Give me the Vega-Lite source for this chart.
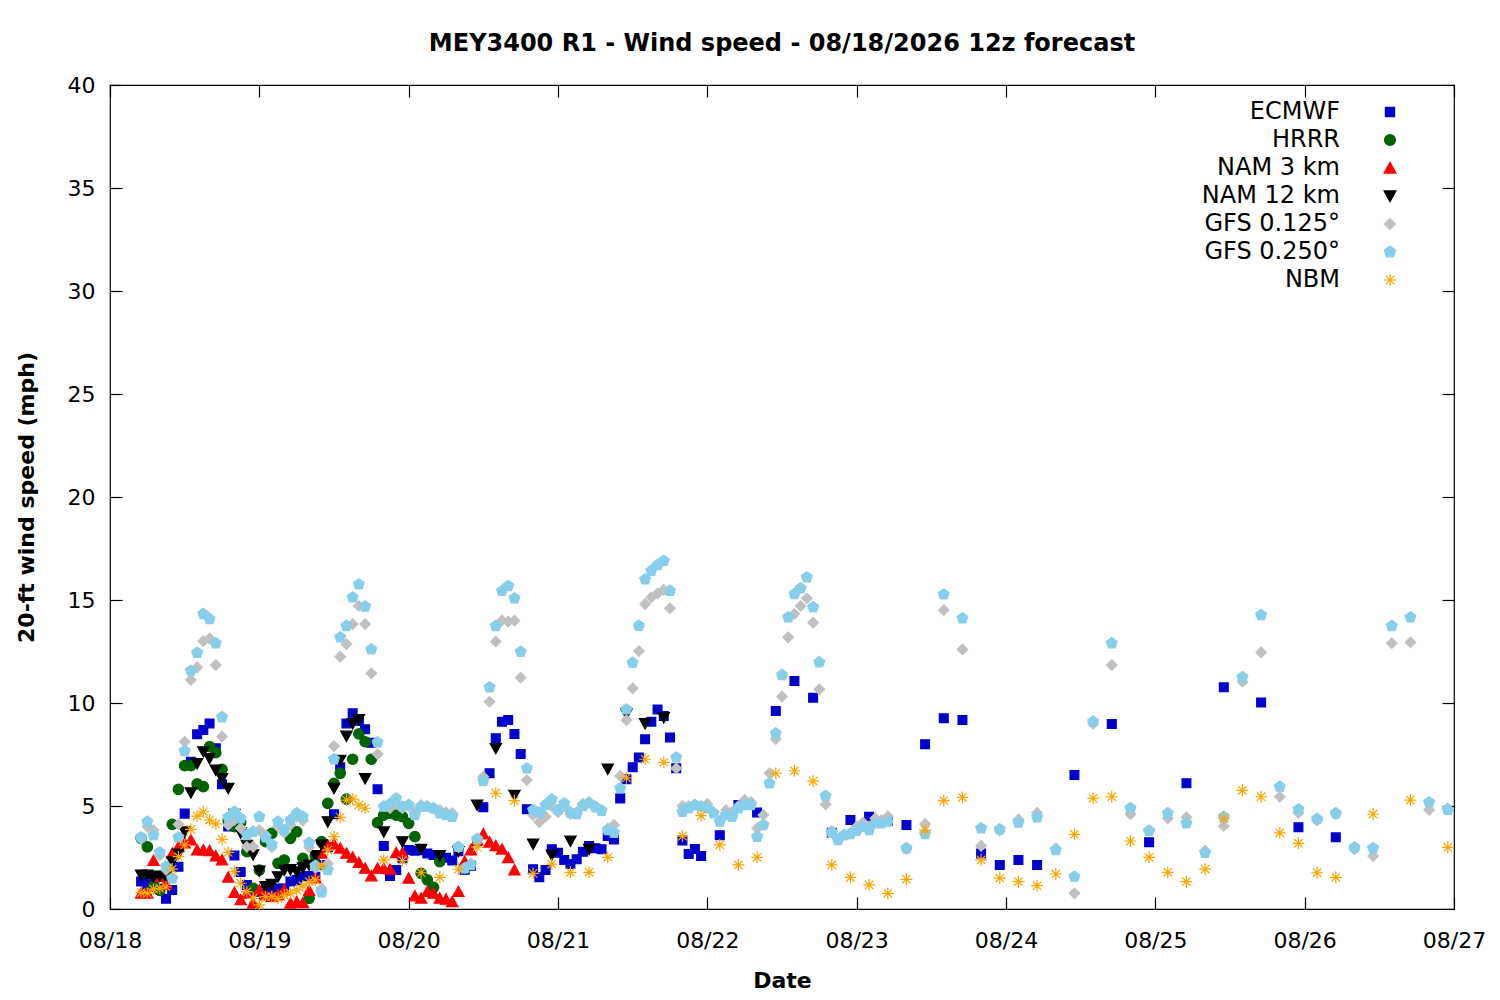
{
  "$schema": "https://vega.github.io/schema/vega-lite/v6.json",
  "width": 1344,
  "height": 824,
  "autosize": "none",
  "padding": {"left": 110, "top": 85, "right": 46, "bottom": 91},
  "background": "white",
  "title": {
    "text": "MEY3400 R1 - Wind speed - 08/18/2026 12z forecast",
    "fontSize": 24, "fontWeight": "bold", "color": "black", "font": "DejaVu Sans",
    "frame": "group", "anchor": "middle", "offset": 18
  },
  "data": {
    "format": {"parse": {"t": "utc:'%Y-%m-%d %H'"}},
    "values": [
      {"m":"ECMWF","t":"2026-08-18 05","v":1.33},{"m":"ECMWF","t":"2026-08-18 06","v":1.16},{"m":"ECMWF","t":"2026-08-18 07","v":1.4},{"m":"ECMWF","t":"2026-08-18 08","v":1.0},
      {"m":"ECMWF","t":"2026-08-18 09","v":0.5},{"m":"ECMWF","t":"2026-08-18 10","v":0.92},{"m":"ECMWF","t":"2026-08-18 11","v":2.05},{"m":"ECMWF","t":"2026-08-18 12","v":4.63},
      {"m":"ECMWF","t":"2026-08-18 13","v":7.15},{"m":"ECMWF","t":"2026-08-18 14","v":8.48},{"m":"ECMWF","t":"2026-08-18 15","v":8.69},{"m":"ECMWF","t":"2026-08-18 16","v":9.01},
      {"m":"ECMWF","t":"2026-08-18 17","v":7.8},{"m":"ECMWF","t":"2026-08-18 18","v":6.05},{"m":"ECMWF","t":"2026-08-18 19","v":4.0},{"m":"ECMWF","t":"2026-08-18 20","v":2.6},
      {"m":"ECMWF","t":"2026-08-18 21","v":1.8},{"m":"ECMWF","t":"2026-08-18 22","v":1.16},{"m":"ECMWF","t":"2026-08-18 23","v":0.9},{"m":"ECMWF","t":"2026-08-19 00","v":0.84},
      {"m":"ECMWF","t":"2026-08-19 01","v":0.9},{"m":"ECMWF","t":"2026-08-19 02","v":1.0},{"m":"ECMWF","t":"2026-08-19 03","v":1.0},{"m":"ECMWF","t":"2026-08-19 04","v":1.0},
      {"m":"ECMWF","t":"2026-08-19 05","v":1.33},{"m":"ECMWF","t":"2026-08-19 06","v":1.41},{"m":"ECMWF","t":"2026-08-19 07","v":1.57},{"m":"ECMWF","t":"2026-08-19 08","v":1.6},
      {"m":"ECMWF","t":"2026-08-19 09","v":1.57},{"m":"ECMWF","t":"2026-08-19 10","v":2.14},{"m":"ECMWF","t":"2026-08-19 11","v":3.0},{"m":"ECMWF","t":"2026-08-19 12","v":4.6},
      {"m":"ECMWF","t":"2026-08-19 13","v":6.88},{"m":"ECMWF","t":"2026-08-19 14","v":9.01},{"m":"ECMWF","t":"2026-08-19 15","v":9.5},{"m":"ECMWF","t":"2026-08-19 16","v":9.14},
      {"m":"ECMWF","t":"2026-08-19 17","v":8.72},{"m":"ECMWF","t":"2026-08-19 18","v":8.07},{"m":"ECMWF","t":"2026-08-19 19","v":5.81},{"m":"ECMWF","t":"2026-08-19 20","v":3.06},
      {"m":"ECMWF","t":"2026-08-19 21","v":1.6},{"m":"ECMWF","t":"2026-08-19 22","v":1.89},{"m":"ECMWF","t":"2026-08-19 23","v":2.46},{"m":"ECMWF","t":"2026-08-20 00","v":2.86},
      {"m":"ECMWF","t":"2026-08-20 01","v":2.83},{"m":"ECMWF","t":"2026-08-20 02","v":2.86},{"m":"ECMWF","t":"2026-08-20 03","v":2.7},{"m":"ECMWF","t":"2026-08-20 04","v":2.62},
      {"m":"ECMWF","t":"2026-08-20 05","v":2.54},{"m":"ECMWF","t":"2026-08-20 06","v":2.49},{"m":"ECMWF","t":"2026-08-20 07","v":2.35},{"m":"ECMWF","t":"2026-08-20 08","v":2.8},
      {"m":"ECMWF","t":"2026-08-20 09","v":1.9},{"m":"ECMWF","t":"2026-08-20 10","v":2.1},{"m":"ECMWF","t":"2026-08-20 11","v":3.3},{"m":"ECMWF","t":"2026-08-20 12","v":4.94},
      {"m":"ECMWF","t":"2026-08-20 13","v":6.59},{"m":"ECMWF","t":"2026-08-20 14","v":8.29},{"m":"ECMWF","t":"2026-08-20 15","v":9.09},{"m":"ECMWF","t":"2026-08-20 16","v":9.17},
      {"m":"ECMWF","t":"2026-08-20 17","v":8.5},{"m":"ECMWF","t":"2026-08-20 18","v":7.52},{"m":"ECMWF","t":"2026-08-20 19","v":4.84},{"m":"ECMWF","t":"2026-08-20 20","v":1.93},
      {"m":"ECMWF","t":"2026-08-20 21","v":1.54},{"m":"ECMWF","t":"2026-08-20 22","v":1.89},{"m":"ECMWF","t":"2026-08-20 23","v":2.9},{"m":"ECMWF","t":"2026-08-21 00","v":2.73},
      {"m":"ECMWF","t":"2026-08-21 01","v":2.38},{"m":"ECMWF","t":"2026-08-21 02","v":2.18},{"m":"ECMWF","t":"2026-08-21 03","v":2.41},{"m":"ECMWF","t":"2026-08-21 04","v":2.78},
      {"m":"ECMWF","t":"2026-08-21 05","v":3.06},{"m":"ECMWF","t":"2026-08-21 06","v":2.95},{"m":"ECMWF","t":"2026-08-21 07","v":2.9},{"m":"ECMWF","t":"2026-08-21 08","v":3.54},
      {"m":"ECMWF","t":"2026-08-21 09","v":3.38},{"m":"ECMWF","t":"2026-08-21 10","v":5.37},{"m":"ECMWF","t":"2026-08-21 11","v":6.3},{"m":"ECMWF","t":"2026-08-21 12","v":6.88},
      {"m":"ECMWF","t":"2026-08-21 13","v":7.36},{"m":"ECMWF","t":"2026-08-21 14","v":8.24},{"m":"ECMWF","t":"2026-08-21 15","v":9.09},{"m":"ECMWF","t":"2026-08-21 16","v":9.69},
      {"m":"ECMWF","t":"2026-08-21 17","v":9.37},{"m":"ECMWF","t":"2026-08-21 18","v":8.33},{"m":"ECMWF","t":"2026-08-21 19","v":6.83},{"m":"ECMWF","t":"2026-08-21 20","v":3.32},
      {"m":"ECMWF","t":"2026-08-21 21","v":2.67},{"m":"ECMWF","t":"2026-08-21 22","v":2.91},{"m":"ECMWF","t":"2026-08-21 23","v":2.57},{"m":"ECMWF","t":"2026-08-22 02","v":3.58},
      {"m":"ECMWF","t":"2026-08-22 05","v":5.05},{"m":"ECMWF","t":"2026-08-22 08","v":4.69},{"m":"ECMWF","t":"2026-08-22 11","v":9.61},{"m":"ECMWF","t":"2026-08-22 14","v":11.07},
      {"m":"ECMWF","t":"2026-08-22 17","v":10.26},{"m":"ECMWF","t":"2026-08-22 20","v":3.7},{"m":"ECMWF","t":"2026-08-22 23","v":4.32},{"m":"ECMWF","t":"2026-08-23 02","v":4.48},
      {"m":"ECMWF","t":"2026-08-23 05","v":4.29},{"m":"ECMWF","t":"2026-08-23 08","v":4.08},{"m":"ECMWF","t":"2026-08-23 11","v":8.0},{"m":"ECMWF","t":"2026-08-23 14","v":9.26},
      {"m":"ECMWF","t":"2026-08-23 17","v":9.17},{"m":"ECMWF","t":"2026-08-23 20","v":2.7},{"m":"ECMWF","t":"2026-08-23 23","v":2.14},{"m":"ECMWF","t":"2026-08-24 02","v":2.38},
      {"m":"ECMWF","t":"2026-08-24 05","v":2.14},{"m":"ECMWF","t":"2026-08-24 11","v":6.5},{"m":"ECMWF","t":"2026-08-24 17","v":8.98},{"m":"ECMWF","t":"2026-08-24 23","v":3.24},
      {"m":"ECMWF","t":"2026-08-25 05","v":6.1},{"m":"ECMWF","t":"2026-08-25 11","v":10.76},{"m":"ECMWF","t":"2026-08-25 17","v":10.03},{"m":"ECMWF","t":"2026-08-25 23","v":3.97},
      {"m":"ECMWF","t":"2026-08-26 05","v":3.48},

      {"m":"HRRR","t":"2026-08-18 05","v":3.43},{"m":"HRRR","t":"2026-08-18 06","v":3.02},{"m":"HRRR","t":"2026-08-18 07","v":1.1},{"m":"HRRR","t":"2026-08-18 08","v":0.9},
      {"m":"HRRR","t":"2026-08-18 09","v":1.5},{"m":"HRRR","t":"2026-08-18 10","v":4.11},{"m":"HRRR","t":"2026-08-18 11","v":5.81},{"m":"HRRR","t":"2026-08-18 12","v":6.96},
      {"m":"HRRR","t":"2026-08-18 13","v":6.96},{"m":"HRRR","t":"2026-08-18 14","v":6.07},{"m":"HRRR","t":"2026-08-18 15","v":5.94},{"m":"HRRR","t":"2026-08-18 16","v":7.88},
      {"m":"HRRR","t":"2026-08-18 17","v":7.59},{"m":"HRRR","t":"2026-08-18 18","v":6.78},{"m":"HRRR","t":"2026-08-18 19","v":4.3},{"m":"HRRR","t":"2026-08-18 20","v":4.0},
      {"m":"HRRR","t":"2026-08-18 21","v":4.2},{"m":"HRRR","t":"2026-08-18 22","v":2.78},{"m":"HRRR","t":"2026-08-18 23","v":1.0},{"m":"HRRR","t":"2026-08-19 00","v":1.89},
      {"m":"HRRR","t":"2026-08-19 01","v":3.27},{"m":"HRRR","t":"2026-08-19 02","v":3.67},{"m":"HRRR","t":"2026-08-19 03","v":2.22},{"m":"HRRR","t":"2026-08-19 04","v":2.38},
      {"m":"HRRR","t":"2026-08-19 05","v":3.43},{"m":"HRRR","t":"2026-08-19 06","v":3.75},{"m":"HRRR","t":"2026-08-19 07","v":2.46},{"m":"HRRR","t":"2026-08-19 08","v":0.52},
      {"m":"HRRR","t":"2026-08-19 09","v":2.57},{"m":"HRRR","t":"2026-08-19 10","v":3.27},{"m":"HRRR","t":"2026-08-19 11","v":5.13},{"m":"HRRR","t":"2026-08-19 12","v":6.1},
      {"m":"HRRR","t":"2026-08-19 13","v":6.59},{"m":"HRRR","t":"2026-08-19 14","v":5.33},{"m":"HRRR","t":"2026-08-19 15","v":7.27},{"m":"HRRR","t":"2026-08-19 16","v":8.5},
      {"m":"HRRR","t":"2026-08-19 17","v":8.12},{"m":"HRRR","t":"2026-08-19 18","v":7.27},{"m":"HRRR","t":"2026-08-19 19","v":4.19},{"m":"HRRR","t":"2026-08-19 20","v":4.56},
      {"m":"HRRR","t":"2026-08-19 21","v":4.65},{"m":"HRRR","t":"2026-08-19 22","v":4.56},{"m":"HRRR","t":"2026-08-19 23","v":4.48},{"m":"HRRR","t":"2026-08-20 00","v":4.16},
      {"m":"HRRR","t":"2026-08-20 01","v":3.51},{"m":"HRRR","t":"2026-08-20 02","v":1.73},{"m":"HRRR","t":"2026-08-20 03","v":1.41},{"m":"HRRR","t":"2026-08-20 04","v":1.05},
      {"m":"HRRR","t":"2026-08-20 05","v":2.3},

      {"m":"NAM 3 km","t":"2026-08-18 05","v":0.76},{"m":"NAM 3 km","t":"2026-08-18 06","v":0.76},{"m":"NAM 3 km","t":"2026-08-18 07","v":2.35},{"m":"NAM 3 km","t":"2026-08-18 08","v":1.57},
      {"m":"NAM 3 km","t":"2026-08-18 09","v":1.2},{"m":"NAM 3 km","t":"2026-08-18 10","v":2.7},{"m":"NAM 3 km","t":"2026-08-18 11","v":3.02},{"m":"NAM 3 km","t":"2026-08-18 12","v":3.2},
      {"m":"NAM 3 km","t":"2026-08-18 13","v":3.35},{"m":"NAM 3 km","t":"2026-08-18 14","v":2.86},{"m":"NAM 3 km","t":"2026-08-18 15","v":2.86},{"m":"NAM 3 km","t":"2026-08-18 16","v":2.83},
      {"m":"NAM 3 km","t":"2026-08-18 17","v":2.57},{"m":"NAM 3 km","t":"2026-08-18 18","v":2.38},{"m":"NAM 3 km","t":"2026-08-18 19","v":1.54},{"m":"NAM 3 km","t":"2026-08-18 20","v":0.8},
      {"m":"NAM 3 km","t":"2026-08-18 21","v":0.44},{"m":"NAM 3 km","t":"2026-08-18 22","v":0.76},{"m":"NAM 3 km","t":"2026-08-18 23","v":0.28},{"m":"NAM 3 km","t":"2026-08-19 00","v":0.92},
      {"m":"NAM 3 km","t":"2026-08-19 01","v":0.68},{"m":"NAM 3 km","t":"2026-08-19 02","v":0.6},{"m":"NAM 3 km","t":"2026-08-19 03","v":0.68},{"m":"NAM 3 km","t":"2026-08-19 04","v":0.92},
      {"m":"NAM 3 km","t":"2026-08-19 05","v":0.28},{"m":"NAM 3 km","t":"2026-08-19 06","v":0.35},{"m":"NAM 3 km","t":"2026-08-19 07","v":0.3},{"m":"NAM 3 km","t":"2026-08-19 08","v":0.9},
      {"m":"NAM 3 km","t":"2026-08-19 09","v":1.5},{"m":"NAM 3 km","t":"2026-08-19 10","v":2.7},{"m":"NAM 3 km","t":"2026-08-19 11","v":3.1},{"m":"NAM 3 km","t":"2026-08-19 12","v":3.15},
      {"m":"NAM 3 km","t":"2026-08-19 13","v":2.95},{"m":"NAM 3 km","t":"2026-08-19 14","v":2.7},{"m":"NAM 3 km","t":"2026-08-19 15","v":2.51},{"m":"NAM 3 km","t":"2026-08-19 16","v":2.25},
      {"m":"NAM 3 km","t":"2026-08-19 17","v":1.97},{"m":"NAM 3 km","t":"2026-08-19 18","v":1.6},{"m":"NAM 3 km","t":"2026-08-19 19","v":1.97},{"m":"NAM 3 km","t":"2026-08-19 20","v":1.97},
      {"m":"NAM 3 km","t":"2026-08-19 21","v":1.92},{"m":"NAM 3 km","t":"2026-08-19 22","v":2.73},{"m":"NAM 3 km","t":"2026-08-19 23","v":2.73},{"m":"NAM 3 km","t":"2026-08-20 00","v":1.49},
      {"m":"NAM 3 km","t":"2026-08-20 01","v":0.63},{"m":"NAM 3 km","t":"2026-08-20 02","v":0.52},{"m":"NAM 3 km","t":"2026-08-20 03","v":0.84},{"m":"NAM 3 km","t":"2026-08-20 04","v":0.76},
      {"m":"NAM 3 km","t":"2026-08-20 05","v":0.52},{"m":"NAM 3 km","t":"2026-08-20 06","v":0.47},{"m":"NAM 3 km","t":"2026-08-20 07","v":0.35},{"m":"NAM 3 km","t":"2026-08-20 08","v":0.84},
      {"m":"NAM 3 km","t":"2026-08-20 09","v":2.3},{"m":"NAM 3 km","t":"2026-08-20 10","v":2.86},{"m":"NAM 3 km","t":"2026-08-20 11","v":3.35},{"m":"NAM 3 km","t":"2026-08-20 12","v":3.64},
      {"m":"NAM 3 km","t":"2026-08-20 13","v":3.24},{"m":"NAM 3 km","t":"2026-08-20 14","v":3.07},{"m":"NAM 3 km","t":"2026-08-20 15","v":2.9},{"m":"NAM 3 km","t":"2026-08-20 16","v":2.49},
      {"m":"NAM 3 km","t":"2026-08-20 17","v":1.89},

      {"m":"NAM 12 km","t":"2026-08-18 05","v":1.65},{"m":"NAM 12 km","t":"2026-08-18 06","v":1.65},{"m":"NAM 12 km","t":"2026-08-18 07","v":1.57},{"m":"NAM 12 km","t":"2026-08-18 08","v":1.6},
      {"m":"NAM 12 km","t":"2026-08-18 09","v":1.57},{"m":"NAM 12 km","t":"2026-08-18 10","v":2.3},{"m":"NAM 12 km","t":"2026-08-18 11","v":2.67},{"m":"NAM 12 km","t":"2026-08-18 12","v":3.75},
      {"m":"NAM 12 km","t":"2026-08-18 13","v":5.65},{"m":"NAM 12 km","t":"2026-08-18 14","v":7.07},{"m":"NAM 12 km","t":"2026-08-18 15","v":7.64},{"m":"NAM 12 km","t":"2026-08-18 16","v":7.31},
      {"m":"NAM 12 km","t":"2026-08-18 17","v":6.75},{"m":"NAM 12 km","t":"2026-08-18 18","v":6.34},{"m":"NAM 12 km","t":"2026-08-18 19","v":5.86},{"m":"NAM 12 km","t":"2026-08-18 20","v":4.6},
      {"m":"NAM 12 km","t":"2026-08-18 21","v":3.7},{"m":"NAM 12 km","t":"2026-08-18 22","v":3.1},{"m":"NAM 12 km","t":"2026-08-18 23","v":2.64},{"m":"NAM 12 km","t":"2026-08-19 00","v":1.85},
      {"m":"NAM 12 km","t":"2026-08-19 01","v":1.1},{"m":"NAM 12 km","t":"2026-08-19 02","v":1.2},{"m":"NAM 12 km","t":"2026-08-19 03","v":1.57},{"m":"NAM 12 km","t":"2026-08-19 04","v":1.89},
      {"m":"NAM 12 km","t":"2026-08-19 05","v":1.92},{"m":"NAM 12 km","t":"2026-08-19 06","v":1.81},{"m":"NAM 12 km","t":"2026-08-19 07","v":2.0},{"m":"NAM 12 km","t":"2026-08-19 08","v":2.14},
      {"m":"NAM 12 km","t":"2026-08-19 09","v":2.6},{"m":"NAM 12 km","t":"2026-08-19 10","v":3.11},{"m":"NAM 12 km","t":"2026-08-19 11","v":4.24},{"m":"NAM 12 km","t":"2026-08-19 12","v":5.86},
      {"m":"NAM 12 km","t":"2026-08-19 13","v":7.23},{"m":"NAM 12 km","t":"2026-08-19 14","v":8.4},{"m":"NAM 12 km","t":"2026-08-19 15","v":9.01},{"m":"NAM 12 km","t":"2026-08-19 16","v":9.2},
      {"m":"NAM 12 km","t":"2026-08-19 17","v":6.34},{"m":"NAM 12 km","t":"2026-08-19 20","v":3.75},{"m":"NAM 12 km","t":"2026-08-19 23","v":3.27},{"m":"NAM 12 km","t":"2026-08-20 02","v":2.9},
      {"m":"NAM 12 km","t":"2026-08-20 05","v":2.6},{"m":"NAM 12 km","t":"2026-08-20 08","v":2.8},{"m":"NAM 12 km","t":"2026-08-20 11","v":5.05},{"m":"NAM 12 km","t":"2026-08-20 14","v":7.8},
      {"m":"NAM 12 km","t":"2026-08-20 17","v":5.53},{"m":"NAM 12 km","t":"2026-08-20 20","v":3.16},{"m":"NAM 12 km","t":"2026-08-20 23","v":2.62},{"m":"NAM 12 km","t":"2026-08-21 02","v":3.3},
      {"m":"NAM 12 km","t":"2026-08-21 05","v":2.9},{"m":"NAM 12 km","t":"2026-08-21 08","v":6.8},{"m":"NAM 12 km","t":"2026-08-21 11","v":9.47},{"m":"NAM 12 km","t":"2026-08-21 14","v":9.01},
      {"m":"NAM 12 km","t":"2026-08-21 17","v":9.3},

      {"m":"GFS 0.125°","t":"2026-08-18 05","v":3.4},{"m":"GFS 0.125°","t":"2026-08-18 06","v":4.0},{"m":"GFS 0.125°","t":"2026-08-18 07","v":3.83},{"m":"GFS 0.125°","t":"2026-08-18 08","v":2.6},
      {"m":"GFS 0.125°","t":"2026-08-18 09","v":1.9},{"m":"GFS 0.125°","t":"2026-08-18 10","v":1.5},{"m":"GFS 0.125°","t":"2026-08-18 11","v":4.11},{"m":"GFS 0.125°","t":"2026-08-18 12","v":8.12},
      {"m":"GFS 0.125°","t":"2026-08-18 13","v":11.12},{"m":"GFS 0.125°","t":"2026-08-18 14","v":11.73},{"m":"GFS 0.125°","t":"2026-08-18 15","v":13.0},{"m":"GFS 0.125°","t":"2026-08-18 16","v":13.14},
      {"m":"GFS 0.125°","t":"2026-08-18 17","v":11.84},{"m":"GFS 0.125°","t":"2026-08-18 18","v":8.37},{"m":"GFS 0.125°","t":"2026-08-18 19","v":4.08},{"m":"GFS 0.125°","t":"2026-08-18 20","v":4.32},
      {"m":"GFS 0.125°","t":"2026-08-18 21","v":3.92},{"m":"GFS 0.125°","t":"2026-08-18 22","v":3.02},{"m":"GFS 0.125°","t":"2026-08-18 23","v":3.02},{"m":"GFS 0.125°","t":"2026-08-19 00","v":3.83},
      {"m":"GFS 0.125°","t":"2026-08-19 01","v":3.59},{"m":"GFS 0.125°","t":"2026-08-19 02","v":3.0},{"m":"GFS 0.125°","t":"2026-08-19 03","v":4.0},{"m":"GFS 0.125°","t":"2026-08-19 04","v":3.7},
      {"m":"GFS 0.125°","t":"2026-08-19 05","v":4.1},{"m":"GFS 0.125°","t":"2026-08-19 06","v":4.5},{"m":"GFS 0.125°","t":"2026-08-19 07","v":4.3},{"m":"GFS 0.125°","t":"2026-08-19 08","v":3.0},
      {"m":"GFS 0.125°","t":"2026-08-19 09","v":2.0},{"m":"GFS 0.125°","t":"2026-08-19 10","v":1.0},{"m":"GFS 0.125°","t":"2026-08-19 11","v":2.2},{"m":"GFS 0.125°","t":"2026-08-19 12","v":7.91},
      {"m":"GFS 0.125°","t":"2026-08-19 13","v":12.25},{"m":"GFS 0.125°","t":"2026-08-19 14","v":12.86},{"m":"GFS 0.125°","t":"2026-08-19 15","v":13.83},{"m":"GFS 0.125°","t":"2026-08-19 16","v":14.71},
      {"m":"GFS 0.125°","t":"2026-08-19 17","v":13.83},{"m":"GFS 0.125°","t":"2026-08-19 18","v":11.44},{"m":"GFS 0.125°","t":"2026-08-19 19","v":7.52},{"m":"GFS 0.125°","t":"2026-08-19 20","v":5.0},
      {"m":"GFS 0.125°","t":"2026-08-19 21","v":4.9},{"m":"GFS 0.125°","t":"2026-08-19 22","v":5.1},{"m":"GFS 0.125°","t":"2026-08-19 23","v":4.9},{"m":"GFS 0.125°","t":"2026-08-20 00","v":5.0},
      {"m":"GFS 0.125°","t":"2026-08-20 01","v":4.7},{"m":"GFS 0.125°","t":"2026-08-20 02","v":5.05},{"m":"GFS 0.125°","t":"2026-08-20 03","v":5.0},{"m":"GFS 0.125°","t":"2026-08-20 04","v":4.9},
      {"m":"GFS 0.125°","t":"2026-08-20 05","v":4.8},{"m":"GFS 0.125°","t":"2026-08-20 06","v":4.7},{"m":"GFS 0.125°","t":"2026-08-20 07","v":4.65},{"m":"GFS 0.125°","t":"2026-08-20 08","v":3.0},
      {"m":"GFS 0.125°","t":"2026-08-20 09","v":2.0},{"m":"GFS 0.125°","t":"2026-08-20 10","v":2.2},{"m":"GFS 0.125°","t":"2026-08-20 11","v":3.35},{"m":"GFS 0.125°","t":"2026-08-20 12","v":6.42},
      {"m":"GFS 0.125°","t":"2026-08-20 13","v":10.06},{"m":"GFS 0.125°","t":"2026-08-20 14","v":12.98},{"m":"GFS 0.125°","t":"2026-08-20 15","v":14.0},{"m":"GFS 0.125°","t":"2026-08-20 16","v":13.95},
      {"m":"GFS 0.125°","t":"2026-08-20 17","v":14.0},{"m":"GFS 0.125°","t":"2026-08-20 18","v":11.23},{"m":"GFS 0.125°","t":"2026-08-20 19","v":6.26},{"m":"GFS 0.125°","t":"2026-08-20 20","v":4.56},
      {"m":"GFS 0.125°","t":"2026-08-20 21","v":4.21},{"m":"GFS 0.125°","t":"2026-08-20 22","v":4.48},{"m":"GFS 0.125°","t":"2026-08-20 23","v":5.0},{"m":"GFS 0.125°","t":"2026-08-21 00","v":4.7},
      {"m":"GFS 0.125°","t":"2026-08-21 01","v":5.0},{"m":"GFS 0.125°","t":"2026-08-21 02","v":4.6},{"m":"GFS 0.125°","t":"2026-08-21 03","v":4.7},{"m":"GFS 0.125°","t":"2026-08-21 04","v":5.1},
      {"m":"GFS 0.125°","t":"2026-08-21 05","v":5.2},{"m":"GFS 0.125°","t":"2026-08-21 06","v":5.0},{"m":"GFS 0.125°","t":"2026-08-21 07","v":4.8},{"m":"GFS 0.125°","t":"2026-08-21 08","v":3.9},
      {"m":"GFS 0.125°","t":"2026-08-21 09","v":4.08},{"m":"GFS 0.125°","t":"2026-08-21 10","v":6.46},{"m":"GFS 0.125°","t":"2026-08-21 11","v":9.17},{"m":"GFS 0.125°","t":"2026-08-21 12","v":10.71},
      {"m":"GFS 0.125°","t":"2026-08-21 13","v":12.52},{"m":"GFS 0.125°","t":"2026-08-21 14","v":14.8},{"m":"GFS 0.125°","t":"2026-08-21 15","v":15.13},{"m":"GFS 0.125°","t":"2026-08-21 16","v":15.32},
      {"m":"GFS 0.125°","t":"2026-08-21 17","v":15.49},{"m":"GFS 0.125°","t":"2026-08-21 18","v":14.6},{"m":"GFS 0.125°","t":"2026-08-21 19","v":6.83},{"m":"GFS 0.125°","t":"2026-08-21 20","v":5.0},
      {"m":"GFS 0.125°","t":"2026-08-21 21","v":5.0},{"m":"GFS 0.125°","t":"2026-08-21 22","v":5.05},{"m":"GFS 0.125°","t":"2026-08-21 23","v":5.0},{"m":"GFS 0.125°","t":"2026-08-22 00","v":5.1},
      {"m":"GFS 0.125°","t":"2026-08-22 01","v":4.7},{"m":"GFS 0.125°","t":"2026-08-22 02","v":4.3},{"m":"GFS 0.125°","t":"2026-08-22 03","v":4.8},{"m":"GFS 0.125°","t":"2026-08-22 04","v":4.7},
      {"m":"GFS 0.125°","t":"2026-08-22 05","v":5.0},{"m":"GFS 0.125°","t":"2026-08-22 06","v":5.3},{"m":"GFS 0.125°","t":"2026-08-22 07","v":5.2},{"m":"GFS 0.125°","t":"2026-08-22 08","v":3.92},
      {"m":"GFS 0.125°","t":"2026-08-22 09","v":4.56},{"m":"GFS 0.125°","t":"2026-08-22 10","v":6.59},{"m":"GFS 0.125°","t":"2026-08-22 11","v":8.25},{"m":"GFS 0.125°","t":"2026-08-22 12","v":10.31},
      {"m":"GFS 0.125°","t":"2026-08-22 13","v":13.19},{"m":"GFS 0.125°","t":"2026-08-22 14","v":14.32},{"m":"GFS 0.125°","t":"2026-08-22 15","v":14.71},{"m":"GFS 0.125°","t":"2026-08-22 16","v":15.08},
      {"m":"GFS 0.125°","t":"2026-08-22 17","v":13.9},{"m":"GFS 0.125°","t":"2026-08-22 18","v":10.66},{"m":"GFS 0.125°","t":"2026-08-22 19","v":5.08},{"m":"GFS 0.125°","t":"2026-08-22 20","v":3.8},
      {"m":"GFS 0.125°","t":"2026-08-22 21","v":3.4},{"m":"GFS 0.125°","t":"2026-08-22 22","v":3.6},{"m":"GFS 0.125°","t":"2026-08-22 23","v":3.7},{"m":"GFS 0.125°","t":"2026-08-23 00","v":4.0},
      {"m":"GFS 0.125°","t":"2026-08-23 01","v":4.2},{"m":"GFS 0.125°","t":"2026-08-23 02","v":4.0},{"m":"GFS 0.125°","t":"2026-08-23 03","v":4.4},{"m":"GFS 0.125°","t":"2026-08-23 04","v":4.3},
      {"m":"GFS 0.125°","t":"2026-08-23 05","v":4.5},{"m":"GFS 0.125°","t":"2026-08-23 08","v":2.9},{"m":"GFS 0.125°","t":"2026-08-23 11","v":4.13},{"m":"GFS 0.125°","t":"2026-08-23 14","v":14.51},
      {"m":"GFS 0.125°","t":"2026-08-23 17","v":12.6},{"m":"GFS 0.125°","t":"2026-08-23 20","v":3.06},{"m":"GFS 0.125°","t":"2026-08-23 23","v":3.8},{"m":"GFS 0.125°","t":"2026-08-24 02","v":4.35},
      {"m":"GFS 0.125°","t":"2026-08-24 05","v":4.67},{"m":"GFS 0.125°","t":"2026-08-24 08","v":2.95},{"m":"GFS 0.125°","t":"2026-08-24 11","v":0.76},{"m":"GFS 0.125°","t":"2026-08-24 14","v":9.0},
      {"m":"GFS 0.125°","t":"2026-08-24 17","v":11.84},{"m":"GFS 0.125°","t":"2026-08-24 20","v":4.6},{"m":"GFS 0.125°","t":"2026-08-24 23","v":3.8},{"m":"GFS 0.125°","t":"2026-08-25 02","v":4.4},
      {"m":"GFS 0.125°","t":"2026-08-25 05","v":4.45},{"m":"GFS 0.125°","t":"2026-08-25 08","v":2.83},{"m":"GFS 0.125°","t":"2026-08-25 11","v":4.03},{"m":"GFS 0.125°","t":"2026-08-25 14","v":11.03},
      {"m":"GFS 0.125°","t":"2026-08-25 17","v":12.46},{"m":"GFS 0.125°","t":"2026-08-25 20","v":5.45},{"m":"GFS 0.125°","t":"2026-08-25 23","v":4.67},{"m":"GFS 0.125°","t":"2026-08-26 02","v":4.3},
      {"m":"GFS 0.125°","t":"2026-08-26 05","v":4.6},{"m":"GFS 0.125°","t":"2026-08-26 08","v":2.9},{"m":"GFS 0.125°","t":"2026-08-26 11","v":2.57},{"m":"GFS 0.125°","t":"2026-08-26 14","v":12.9},
      {"m":"GFS 0.125°","t":"2026-08-26 17","v":12.95},{"m":"GFS 0.125°","t":"2026-08-26 20","v":4.81},{"m":"GFS 0.125°","t":"2026-08-26 23","v":4.89},

      {"m":"GFS 0.250°","t":"2026-08-18 05","v":3.48},{"m":"GFS 0.250°","t":"2026-08-18 06","v":4.24},{"m":"GFS 0.250°","t":"2026-08-18 07","v":3.58},{"m":"GFS 0.250°","t":"2026-08-18 08","v":2.75},
      {"m":"GFS 0.250°","t":"2026-08-18 09","v":2.05},{"m":"GFS 0.250°","t":"2026-08-18 10","v":1.49},{"m":"GFS 0.250°","t":"2026-08-18 11","v":3.48},{"m":"GFS 0.250°","t":"2026-08-18 12","v":7.67},
      {"m":"GFS 0.250°","t":"2026-08-18 13","v":11.57},{"m":"GFS 0.250°","t":"2026-08-18 14","v":12.44},{"m":"GFS 0.250°","t":"2026-08-18 15","v":14.32},{"m":"GFS 0.250°","t":"2026-08-18 16","v":14.08},
      {"m":"GFS 0.250°","t":"2026-08-18 17","v":12.9},{"m":"GFS 0.250°","t":"2026-08-18 18","v":9.31},{"m":"GFS 0.250°","t":"2026-08-18 19","v":4.45},{"m":"GFS 0.250°","t":"2026-08-18 20","v":4.72},
      {"m":"GFS 0.250°","t":"2026-08-18 21","v":4.4},{"m":"GFS 0.250°","t":"2026-08-18 22","v":3.59},{"m":"GFS 0.250°","t":"2026-08-18 23","v":3.75},{"m":"GFS 0.250°","t":"2026-08-19 00","v":4.48},
      {"m":"GFS 0.250°","t":"2026-08-19 01","v":3.48},{"m":"GFS 0.250°","t":"2026-08-19 02","v":3.14},{"m":"GFS 0.250°","t":"2026-08-19 03","v":4.24},{"m":"GFS 0.250°","t":"2026-08-19 04","v":3.83},
      {"m":"GFS 0.250°","t":"2026-08-19 05","v":4.32},{"m":"GFS 0.250°","t":"2026-08-19 06","v":4.65},{"m":"GFS 0.250°","t":"2026-08-19 07","v":4.48},{"m":"GFS 0.250°","t":"2026-08-19 08","v":3.22},
      {"m":"GFS 0.250°","t":"2026-08-19 09","v":2.1},{"m":"GFS 0.250°","t":"2026-08-19 10","v":0.81},{"m":"GFS 0.250°","t":"2026-08-19 11","v":1.9},{"m":"GFS 0.250°","t":"2026-08-19 12","v":7.27},
      {"m":"GFS 0.250°","t":"2026-08-19 13","v":13.19},{"m":"GFS 0.250°","t":"2026-08-19 14","v":13.74},{"m":"GFS 0.250°","t":"2026-08-19 15","v":15.13},{"m":"GFS 0.250°","t":"2026-08-19 16","v":15.76},
      {"m":"GFS 0.250°","t":"2026-08-19 17","v":14.68},{"m":"GFS 0.250°","t":"2026-08-19 18","v":12.6},{"m":"GFS 0.250°","t":"2026-08-19 19","v":8.09},{"m":"GFS 0.250°","t":"2026-08-19 20","v":4.97},
      {"m":"GFS 0.250°","t":"2026-08-19 21","v":5.1},{"m":"GFS 0.250°","t":"2026-08-19 22","v":5.37},{"m":"GFS 0.250°","t":"2026-08-19 23","v":4.97},{"m":"GFS 0.250°","t":"2026-08-20 00","v":5.05},
      {"m":"GFS 0.250°","t":"2026-08-20 01","v":4.56},{"m":"GFS 0.250°","t":"2026-08-20 02","v":4.97},{"m":"GFS 0.250°","t":"2026-08-20 03","v":4.97},{"m":"GFS 0.250°","t":"2026-08-20 04","v":4.89},
      {"m":"GFS 0.250°","t":"2026-08-20 05","v":4.65},{"m":"GFS 0.250°","t":"2026-08-20 06","v":4.56},{"m":"GFS 0.250°","t":"2026-08-20 07","v":4.48},{"m":"GFS 0.250°","t":"2026-08-20 08","v":3.02},
      {"m":"GFS 0.250°","t":"2026-08-20 09","v":1.97},{"m":"GFS 0.250°","t":"2026-08-20 10","v":2.14},{"m":"GFS 0.250°","t":"2026-08-20 11","v":3.4},{"m":"GFS 0.250°","t":"2026-08-20 12","v":6.21},
      {"m":"GFS 0.250°","t":"2026-08-20 13","v":10.76},{"m":"GFS 0.250°","t":"2026-08-20 14","v":13.74},{"m":"GFS 0.250°","t":"2026-08-20 15","v":15.44},{"m":"GFS 0.250°","t":"2026-08-20 16","v":15.68},
      {"m":"GFS 0.250°","t":"2026-08-20 17","v":15.08},{"m":"GFS 0.250°","t":"2026-08-20 18","v":12.49},{"m":"GFS 0.250°","t":"2026-08-20 19","v":6.83},{"m":"GFS 0.250°","t":"2026-08-20 20","v":4.81},
      {"m":"GFS 0.250°","t":"2026-08-20 21","v":4.68},{"m":"GFS 0.250°","t":"2026-08-20 22","v":5.05},{"m":"GFS 0.250°","t":"2026-08-20 23","v":5.32},{"m":"GFS 0.250°","t":"2026-08-21 00","v":4.81},
      {"m":"GFS 0.250°","t":"2026-08-21 01","v":5.13},{"m":"GFS 0.250°","t":"2026-08-21 02","v":4.69},{"m":"GFS 0.250°","t":"2026-08-21 03","v":4.61},{"m":"GFS 0.250°","t":"2026-08-21 04","v":5.0},
      {"m":"GFS 0.250°","t":"2026-08-21 05","v":5.13},{"m":"GFS 0.250°","t":"2026-08-21 06","v":4.94},{"m":"GFS 0.250°","t":"2026-08-21 07","v":4.77},{"m":"GFS 0.250°","t":"2026-08-21 08","v":3.83},
      {"m":"GFS 0.250°","t":"2026-08-21 09","v":3.7},{"m":"GFS 0.250°","t":"2026-08-21 10","v":5.86},{"m":"GFS 0.250°","t":"2026-08-21 11","v":9.69},{"m":"GFS 0.250°","t":"2026-08-21 12","v":11.96},
      {"m":"GFS 0.250°","t":"2026-08-21 13","v":13.75},{"m":"GFS 0.250°","t":"2026-08-21 14","v":16.0},{"m":"GFS 0.250°","t":"2026-08-21 15","v":16.42},{"m":"GFS 0.250°","t":"2026-08-21 16","v":16.7},
      {"m":"GFS 0.250°","t":"2026-08-21 17","v":16.9},{"m":"GFS 0.250°","t":"2026-08-21 18","v":15.45},{"m":"GFS 0.250°","t":"2026-08-21 19","v":7.36},{"m":"GFS 0.250°","t":"2026-08-21 20","v":4.72},
      {"m":"GFS 0.250°","t":"2026-08-21 21","v":4.89},{"m":"GFS 0.250°","t":"2026-08-21 22","v":5.05},{"m":"GFS 0.250°","t":"2026-08-21 23","v":4.97},{"m":"GFS 0.250°","t":"2026-08-22 00","v":4.89},
      {"m":"GFS 0.250°","t":"2026-08-22 01","v":4.65},{"m":"GFS 0.250°","t":"2026-08-22 02","v":4.24},{"m":"GFS 0.250°","t":"2026-08-22 03","v":4.56},{"m":"GFS 0.250°","t":"2026-08-22 04","v":4.48},
      {"m":"GFS 0.250°","t":"2026-08-22 05","v":4.89},{"m":"GFS 0.250°","t":"2026-08-22 06","v":5.05},{"m":"GFS 0.250°","t":"2026-08-22 07","v":5.05},{"m":"GFS 0.250°","t":"2026-08-22 08","v":3.51},
      {"m":"GFS 0.250°","t":"2026-08-22 09","v":4.08},{"m":"GFS 0.250°","t":"2026-08-22 10","v":6.1},{"m":"GFS 0.250°","t":"2026-08-22 11","v":8.53},{"m":"GFS 0.250°","t":"2026-08-22 12","v":11.36},
      {"m":"GFS 0.250°","t":"2026-08-22 13","v":14.16},{"m":"GFS 0.250°","t":"2026-08-22 14","v":15.29},{"m":"GFS 0.250°","t":"2026-08-22 15","v":15.57},{"m":"GFS 0.250°","t":"2026-08-22 16","v":16.1},
      {"m":"GFS 0.250°","t":"2026-08-22 17","v":14.65},{"m":"GFS 0.250°","t":"2026-08-22 18","v":11.98},{"m":"GFS 0.250°","t":"2026-08-22 19","v":5.49},{"m":"GFS 0.250°","t":"2026-08-22 20","v":3.7},
      {"m":"GFS 0.250°","t":"2026-08-22 21","v":3.35},{"m":"GFS 0.250°","t":"2026-08-22 22","v":3.59},{"m":"GFS 0.250°","t":"2026-08-22 23","v":3.64},{"m":"GFS 0.250°","t":"2026-08-23 00","v":3.8},
      {"m":"GFS 0.250°","t":"2026-08-23 01","v":4.0},{"m":"GFS 0.250°","t":"2026-08-23 02","v":3.83},{"m":"GFS 0.250°","t":"2026-08-23 03","v":4.16},{"m":"GFS 0.250°","t":"2026-08-23 04","v":4.16},
      {"m":"GFS 0.250°","t":"2026-08-23 05","v":4.24},{"m":"GFS 0.250°","t":"2026-08-23 08","v":2.95},{"m":"GFS 0.250°","t":"2026-08-23 11","v":3.64},{"m":"GFS 0.250°","t":"2026-08-23 14","v":15.27},
      {"m":"GFS 0.250°","t":"2026-08-23 17","v":14.11},{"m":"GFS 0.250°","t":"2026-08-23 20","v":3.92},{"m":"GFS 0.250°","t":"2026-08-23 23","v":3.87},{"m":"GFS 0.250°","t":"2026-08-24 02","v":4.19},
      {"m":"GFS 0.250°","t":"2026-08-24 05","v":4.45},{"m":"GFS 0.250°","t":"2026-08-24 08","v":2.86},{"m":"GFS 0.250°","t":"2026-08-24 11","v":1.57},{"m":"GFS 0.250°","t":"2026-08-24 14","v":9.09},
      {"m":"GFS 0.250°","t":"2026-08-24 17","v":12.9},{"m":"GFS 0.250°","t":"2026-08-24 20","v":4.89},{"m":"GFS 0.250°","t":"2026-08-24 23","v":3.8},{"m":"GFS 0.250°","t":"2026-08-25 02","v":4.65},
      {"m":"GFS 0.250°","t":"2026-08-25 05","v":4.16},{"m":"GFS 0.250°","t":"2026-08-25 08","v":2.73},{"m":"GFS 0.250°","t":"2026-08-25 11","v":4.48},{"m":"GFS 0.250°","t":"2026-08-25 14","v":11.25},
      {"m":"GFS 0.250°","t":"2026-08-25 17","v":14.27},{"m":"GFS 0.250°","t":"2026-08-25 20","v":5.94},{"m":"GFS 0.250°","t":"2026-08-25 23","v":4.84},{"m":"GFS 0.250°","t":"2026-08-26 02","v":4.37},
      {"m":"GFS 0.250°","t":"2026-08-26 05","v":4.65},{"m":"GFS 0.250°","t":"2026-08-26 08","v":2.99},{"m":"GFS 0.250°","t":"2026-08-26 11","v":2.95},{"m":"GFS 0.250°","t":"2026-08-26 14","v":13.74},
      {"m":"GFS 0.250°","t":"2026-08-26 17","v":14.16},{"m":"GFS 0.250°","t":"2026-08-26 20","v":5.18},{"m":"GFS 0.250°","t":"2026-08-26 23","v":4.81},

      {"m":"NBM","t":"2026-08-18 05","v":0.8},{"m":"NBM","t":"2026-08-18 06","v":0.76},{"m":"NBM","t":"2026-08-18 07","v":0.96},{"m":"NBM","t":"2026-08-18 08","v":1.0},
      {"m":"NBM","t":"2026-08-18 09","v":1.08},{"m":"NBM","t":"2026-08-18 10","v":1.94},{"m":"NBM","t":"2026-08-18 11","v":2.54},{"m":"NBM","t":"2026-08-18 12","v":3.11},
      {"m":"NBM","t":"2026-08-18 13","v":3.87},{"m":"NBM","t":"2026-08-18 14","v":4.51},{"m":"NBM","t":"2026-08-18 15","v":4.72},{"m":"NBM","t":"2026-08-18 16","v":4.32},
      {"m":"NBM","t":"2026-08-18 17","v":4.13},{"m":"NBM","t":"2026-08-18 18","v":3.38},{"m":"NBM","t":"2026-08-18 19","v":2.75},{"m":"NBM","t":"2026-08-18 20","v":1.81},
      {"m":"NBM","t":"2026-08-18 21","v":1.25},{"m":"NBM","t":"2026-08-18 22","v":0.84},{"m":"NBM","t":"2026-08-18 23","v":0.52},{"m":"NBM","t":"2026-08-19 00","v":0.2},
      {"m":"NBM","t":"2026-08-19 01","v":0.6},{"m":"NBM","t":"2026-08-19 02","v":0.6},{"m":"NBM","t":"2026-08-19 03","v":0.52},{"m":"NBM","t":"2026-08-19 04","v":0.68},
      {"m":"NBM","t":"2026-08-19 05","v":0.76},{"m":"NBM","t":"2026-08-19 06","v":0.92},{"m":"NBM","t":"2026-08-19 07","v":1.12},{"m":"NBM","t":"2026-08-19 08","v":1.33},
      {"m":"NBM","t":"2026-08-19 09","v":1.41},{"m":"NBM","t":"2026-08-19 10","v":2.09},{"m":"NBM","t":"2026-08-19 11","v":2.86},{"m":"NBM","t":"2026-08-19 12","v":3.51},
      {"m":"NBM","t":"2026-08-19 13","v":4.45},{"m":"NBM","t":"2026-08-19 14","v":5.29},{"m":"NBM","t":"2026-08-19 15","v":5.33},{"m":"NBM","t":"2026-08-19 16","v":5.05},
      {"m":"NBM","t":"2026-08-19 17","v":4.89},{"m":"NBM","t":"2026-08-19 20","v":2.38},{"m":"NBM","t":"2026-08-19 23","v":2.35},{"m":"NBM","t":"2026-08-20 02","v":1.76},
      {"m":"NBM","t":"2026-08-20 05","v":1.54},{"m":"NBM","t":"2026-08-20 08","v":1.93},{"m":"NBM","t":"2026-08-20 11","v":3.0},{"m":"NBM","t":"2026-08-20 14","v":5.62},
      {"m":"NBM","t":"2026-08-20 17","v":5.26},{"m":"NBM","t":"2026-08-20 20","v":1.73},{"m":"NBM","t":"2026-08-20 23","v":2.18},{"m":"NBM","t":"2026-08-21 02","v":1.78},
      {"m":"NBM","t":"2026-08-21 05","v":1.78},{"m":"NBM","t":"2026-08-21 08","v":2.51},{"m":"NBM","t":"2026-08-21 11","v":6.37},{"m":"NBM","t":"2026-08-21 14","v":7.27},
      {"m":"NBM","t":"2026-08-21 17","v":7.12},{"m":"NBM","t":"2026-08-21 20","v":3.54},{"m":"NBM","t":"2026-08-21 23","v":4.53},{"m":"NBM","t":"2026-08-22 02","v":3.11},
      {"m":"NBM","t":"2026-08-22 05","v":2.14},{"m":"NBM","t":"2026-08-22 08","v":2.51},{"m":"NBM","t":"2026-08-22 11","v":6.59},{"m":"NBM","t":"2026-08-22 14","v":6.71},
      {"m":"NBM","t":"2026-08-22 17","v":6.21},{"m":"NBM","t":"2026-08-22 20","v":2.14},{"m":"NBM","t":"2026-08-22 23","v":1.54},{"m":"NBM","t":"2026-08-23 02","v":1.17},
      {"m":"NBM","t":"2026-08-23 05","v":0.76},{"m":"NBM","t":"2026-08-23 08","v":1.44},{"m":"NBM","t":"2026-08-23 11","v":3.83},{"m":"NBM","t":"2026-08-23 14","v":5.26},
      {"m":"NBM","t":"2026-08-23 17","v":5.42},{"m":"NBM","t":"2026-08-23 20","v":2.38},{"m":"NBM","t":"2026-08-23 23","v":1.5},{"m":"NBM","t":"2026-08-24 02","v":1.33},
      {"m":"NBM","t":"2026-08-24 05","v":1.13},{"m":"NBM","t":"2026-08-24 08","v":1.7},{"m":"NBM","t":"2026-08-24 11","v":3.62},{"m":"NBM","t":"2026-08-24 14","v":5.37},
      {"m":"NBM","t":"2026-08-24 17","v":5.45},{"m":"NBM","t":"2026-08-24 20","v":3.3},{"m":"NBM","t":"2026-08-24 23","v":2.51},{"m":"NBM","t":"2026-08-25 02","v":1.78},
      {"m":"NBM","t":"2026-08-25 05","v":1.33},{"m":"NBM","t":"2026-08-25 08","v":1.94},{"m":"NBM","t":"2026-08-25 11","v":4.4},{"m":"NBM","t":"2026-08-25 14","v":5.76},
      {"m":"NBM","t":"2026-08-25 17","v":5.45},{"m":"NBM","t":"2026-08-25 20","v":3.7},{"m":"NBM","t":"2026-08-25 23","v":3.19},{"m":"NBM","t":"2026-08-26 02","v":1.76},
      {"m":"NBM","t":"2026-08-26 05","v":1.54},{"m":"NBM","t":"2026-08-26 11","v":4.6},{"m":"NBM","t":"2026-08-26 17","v":5.29},{"m":"NBM","t":"2026-08-26 23","v":2.99}
    ]
  },
  "layer": [
    {
      "mark": {"type": "point", "filled": true, "opacity": 1, "size": 110, "strokeWidth": 1.2},
      "encoding": {
        "x": {
          "field": "t", "type": "temporal", "title": "Date",
          "scale": {"type": "utc", "domain": [{"year": 2026, "month": 8, "date": 18, "utc": true}, {"year": 2026, "month": 8, "date": 27, "utc": true}]},
          "axis": {
            "labelExpr": "utcFormat(datum.value, '%m/%d')",
            "values": [
              {"year": 2026, "month": 8, "date": 18, "utc": true}, {"year": 2026, "month": 8, "date": 19, "utc": true},
              {"year": 2026, "month": 8, "date": 20, "utc": true}, {"year": 2026, "month": 8, "date": 21, "utc": true},
              {"year": 2026, "month": 8, "date": 22, "utc": true}, {"year": 2026, "month": 8, "date": 23, "utc": true},
              {"year": 2026, "month": 8, "date": 24, "utc": true}, {"year": 2026, "month": 8, "date": 25, "utc": true},
              {"year": 2026, "month": 8, "date": 26, "utc": true}, {"year": 2026, "month": 8, "date": 27, "utc": true}
            ],
            "tickSize": -12, "labelPadding": 33, "titlePadding": 19, "labelFlush": false, "labelOverlap": false
          }
        },
        "y": {
          "field": "v", "type": "quantitative", "title": "20-ft wind speed (mph)",
          "scale": {"domain": [0, 40], "nice": false},
          "axis": {"values": [0, 5, 10, 15, 20, 25, 30, 35, 40], "tickSize": -12, "labelPadding": 27, "titlePadding": 29}
        },
        "shape": {
          "field": "m", "type": "nominal", "title": null,
          "scale": {
            "domain": ["ECMWF", "HRRR", "NAM 3 km", "NAM 12 km", "GFS 0.125°", "GFS 0.250°", "NBM"],
            "range": [
              "M-0.84,-0.84L0.84,-0.84L0.84,0.84L-0.84,0.84Z",
              "circle",
              "M0,-1.05L1.08,0.92L-1.08,0.92Z",
              "M0,1.05L1.08,-0.92L-1.08,-0.92Z",
              "diamond",
              "M0,-1.08L1.027,-0.334L0.635,0.874L-0.635,0.874L-1.027,-0.334Z",
              "M-1.13,0L1.13,0M0,-1.13L0,1.13M-0.8,-0.8L0.8,0.8M-0.8,0.8L0.8,-0.8"]
          }
        },
        "fill": {
          "field": "m", "type": "nominal", "title": null,
          "scale": {
            "domain": ["ECMWF", "HRRR", "NAM 3 km", "NAM 12 km", "GFS 0.125°", "GFS 0.250°", "NBM"],
            "range": ["#0000cd", "#006400", "#ff0000", "#000000", "#c0c0c0", "#87ceeb", "#ffa500"]
          }
        },
        "stroke": {
          "field": "m", "type": "nominal", "title": null,
          "scale": {
            "domain": ["ECMWF", "HRRR", "NAM 3 km", "NAM 12 km", "GFS 0.125°", "GFS 0.250°", "NBM"],
            "range": ["#0000cd", "#006400", "#ff0000", "#000000", "#c0c0c0", "#87ceeb", "#ffa500"]
          }
        }
      }
    },
    {
      "mark": {"type": "point", "opacity": 0},
      "encoding": {
        "x": {"field": "t", "type": "temporal", "axis": {"orient": "top", "labels": false, "title": null, "tickSize": -12,
          "values": [
              {"year": 2026, "month": 8, "date": 18, "utc": true}, {"year": 2026, "month": 8, "date": 19, "utc": true},
              {"year": 2026, "month": 8, "date": 20, "utc": true}, {"year": 2026, "month": 8, "date": 21, "utc": true},
              {"year": 2026, "month": 8, "date": 22, "utc": true}, {"year": 2026, "month": 8, "date": 23, "utc": true},
              {"year": 2026, "month": 8, "date": 24, "utc": true}, {"year": 2026, "month": 8, "date": 25, "utc": true},
              {"year": 2026, "month": 8, "date": 26, "utc": true}, {"year": 2026, "month": 8, "date": 27, "utc": true}
            ]}},
        "y": {"field": "v", "type": "quantitative", "axis": {"orient": "right", "labels": false, "title": null, "tickSize": -12, "values": [0, 5, 10, 15, 20, 25, 30, 35, 40]}}
      }
    }
  ],
  "resolve": {"axis": {"x": "independent", "y": "independent"}},
  "config": {
    "font": "DejaVu Sans",
    "view": {"stroke": "black", "strokeWidth": 1.2},
    "axis": {"grid": false, "domain": false, "tickColor": "black", "tickWidth": 1.2, "labelColor": "black", "titleColor": "black", "labelFontSize": 22, "titleFontSize": 22, "titleFontWeight": "bold", "labelFont": "DejaVu Sans", "titleFont": "DejaVu Sans"},
    "legend": {
      "orient": "none", "legendX": 1268, "legendY": 15,
      "labelFontSize": 24, "labelFont": "DejaVu Sans", "labelColor": "black",
      "labelAlign": "right", "labelOffset": -62,
      "symbolSize": 120, "symbolStrokeWidth": 1.2, "rowPadding": 4
    }
  }
}
